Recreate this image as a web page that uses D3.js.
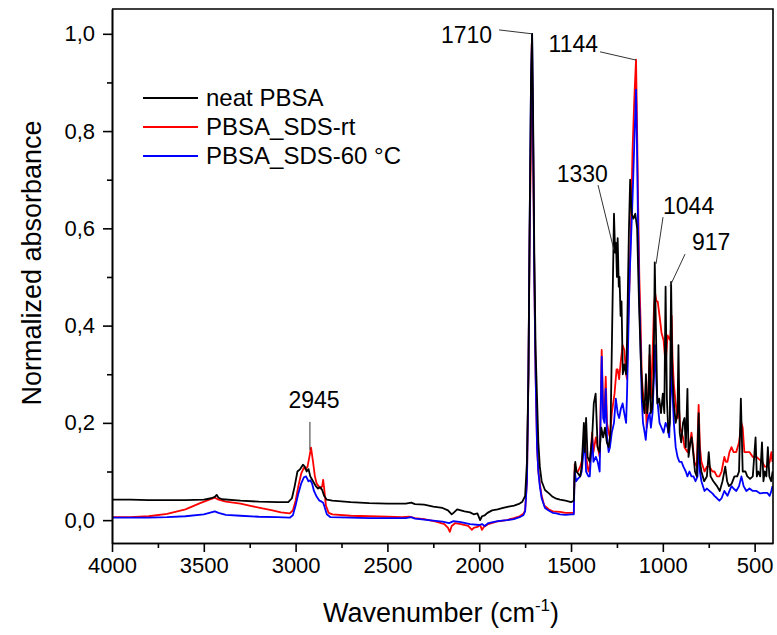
<!DOCTYPE html>
<html>
<head>
<meta charset="utf-8">
<script src="https://cdn.jsdelivr.net/npm/d3@7"></script>
<style>
  body { margin: 0; background: #fff; }
  svg { display: block; font-family: Arial, "Liberation Sans", sans-serif; }
</style>
</head>
<body>
<svg id="chart" width="777" height="635"></svg>
<script>
// spectra: [wavenumber (cm-1), normalized absorbance]
const neatPBSA = [
  [4000,0.042],[3900,0.042],[3800,0.041],[3700,0.041],[3600,0.041],[3500,0.042],[3460,0.045],[3440,0.048],
  [3430,0.052],[3420,0.046],[3400,0.043],[3300,0.040],[3200,0.038],[3100,0.037],[3040,0.037],[3020,0.045],
  [3005,0.070],[2990,0.100],[2975,0.105],[2960,0.114],[2950,0.110],[2940,0.100],[2930,0.105],[2920,0.090],
  [2905,0.080],[2890,0.070],[2878,0.065],[2866,0.068],[2855,0.062],[2845,0.050],[2830,0.042],[2800,0.040],
  [2700,0.037],[2600,0.035],[2500,0.034],[2400,0.034],[2370,0.036],[2350,0.033],[2300,0.032],[2250,0.028],
  [2200,0.025],[2170,0.020],[2150,0.012],[2140,0.015],[2120,0.022],[2100,0.020],[2080,0.018],[2050,0.016],
  [2030,0.012],[2010,0.014],[1995,0.000],[1985,0.008],[1970,0.010],[1955,0.015],[1930,0.020],[1900,0.022],
  [1870,0.025],[1840,0.028],[1810,0.030],[1780,0.034],[1765,0.038],[1750,0.050],[1740,0.120],[1732,0.300],
  [1725,0.620],[1718,0.900],[1712,1.000],[1707,0.850],[1700,0.550],[1693,0.350],[1685,0.250],[1678,0.160],
  [1670,0.110],[1660,0.080],[1642,0.062],[1620,0.055],[1600,0.048],[1580,0.044],[1560,0.042],[1530,0.040],
  [1500,0.037],[1485,0.040],[1480,0.100],[1477,0.120],[1470,0.100],[1460,0.095],[1450,0.090],[1442,0.110],
  [1430,0.200],[1425,0.140],[1418,0.210],[1410,0.130],[1398,0.120],[1385,0.170],[1376,0.240],[1366,0.260],
  [1355,0.150],[1345,0.140],[1335,0.190],[1325,0.170],[1315,0.190],[1305,0.160],[1295,0.150],[1285,0.180],
  [1275,0.420],[1266,0.630],[1260,0.550],[1255,0.570],[1250,0.500],[1246,0.580],[1240,0.480],[1236,0.500],
  [1230,0.420],[1225,0.450],[1218,0.300],[1210,0.320],[1200,0.300],[1195,0.370],[1185,0.590],[1178,0.700],
  [1170,0.630],[1160,0.620],[1150,0.630],[1140,0.600],[1130,0.450],[1120,0.330],[1110,0.250],[1100,0.220],
  [1092,0.300],[1085,0.220],[1078,0.250],[1072,0.360],[1066,0.220],[1058,0.230],[1050,0.300],[1044,0.530],
  [1038,0.400],[1030,0.240],[1020,0.250],[1010,0.220],[1000,0.260],[992,0.220],[985,0.480],[978,0.250],
  [970,0.180],[962,0.200],[955,0.490],[948,0.300],[940,0.240],[930,0.200],[920,0.220],[915,0.360],
  [908,0.180],[900,0.160],[890,0.200],[882,0.210],[875,0.150],[866,0.270],[860,0.130],[850,0.160],
  [843,0.170],[835,0.140],[825,0.100],[815,0.090],[805,0.220],[798,0.120],[790,0.100],[775,0.080],
  [760,0.090],[750,0.140],[740,0.090],[725,0.080],[705,0.070],[690,0.060],[675,0.080],[660,0.110],
  [650,0.080],[640,0.070],[625,0.075],[610,0.090],[595,0.090],[585,0.100],[575,0.250],[565,0.100],
  [550,0.100],[540,0.090],[525,0.085],[510,0.090],[495,0.170],[488,0.090],[480,0.100],[470,0.090],
  [460,0.160],[452,0.080],[445,0.100],[436,0.090],[428,0.150],[420,0.090],[410,0.080],[402,0.100]
];

const sdsRT = [
  [4000,0.006],[3900,0.006],[3800,0.008],[3700,0.013],[3600,0.022],[3520,0.035],[3470,0.042],[3440,0.046],
  [3420,0.042],[3380,0.038],[3300,0.034],[3240,0.029],[3180,0.024],[3126,0.020],[3080,0.016],[3032,0.014],
  [3015,0.020],[3000,0.040],[2985,0.070],[2970,0.095],[2955,0.108],[2945,0.105],[2935,0.110],[2925,0.130],
  [2916,0.149],[2905,0.120],[2895,0.090],[2885,0.075],[2875,0.070],[2865,0.065],[2855,0.070],[2850,0.083],
  [2843,0.060],[2835,0.030],[2820,0.015],[2800,0.012],[2700,0.009],[2600,0.008],[2500,0.007],[2420,0.006],
  [2380,0.007],[2350,0.004],[2300,0.002],[2235,-0.003],[2190,-0.008],[2170,-0.016],[2160,-0.024],[2150,-0.012],
  [2130,-0.006],[2100,-0.008],[2060,-0.012],[2040,-0.020],[2030,-0.016],[2010,-0.014],[1995,-0.010],[1985,-0.020],
  [1975,-0.014],[1950,-0.008],[1906,-0.003],[1850,0.000],[1811,0.004],[1780,0.008],[1760,0.013],[1750,0.020],
  [1740,0.080],[1732,0.300],[1725,0.600],[1720,0.720],[1714,0.980],[1707,0.800],[1700,0.500],[1693,0.300],
  [1685,0.150],[1678,0.100],[1670,0.075],[1660,0.050],[1646,0.030],[1620,0.022],[1599,0.018],[1560,0.017],
  [1530,0.015],[1500,0.015],[1485,0.015],[1480,0.115],[1472,0.100],[1463,0.100],[1450,0.110],[1442,0.120],
  [1432,0.150],[1425,0.180],[1418,0.130],[1405,0.100],[1398,0.110],[1385,0.180],[1378,0.140],[1365,0.170],
  [1355,0.150],[1344,0.130],[1333,0.350],[1325,0.230],[1318,0.220],[1311,0.295],[1304,0.200],[1295,0.180],
  [1288,0.170],[1278,0.220],[1263,0.260],[1252,0.310],[1246,0.310],[1238,0.290],[1228,0.330],[1219,0.360],
  [1210,0.350],[1200,0.300],[1195,0.290],[1188,0.420],[1181,0.490],[1173,0.620],[1165,0.760],[1155,0.870],
  [1146,0.947],[1140,0.800],[1135,0.660],[1128,0.500],[1122,0.420],[1115,0.300],[1108,0.260],[1099,0.230],
  [1093,0.240],[1088,0.190],[1080,0.260],[1072,0.340],[1065,0.250],[1056,0.340],[1048,0.440],[1042,0.466],
  [1035,0.450],[1028,0.450],[1018,0.420],[1007,0.385],[996,0.370],[985,0.320],[974,0.380],[960,0.370],
  [952,0.420],[947,0.330],[940,0.280],[930,0.240],[920,0.210],[912,0.230],[905,0.190],[898,0.180],
  [890,0.170],[882,0.150],[866,0.140],[855,0.150],[844,0.180],[836,0.150],[828,0.120],[815,0.110],
  [805,0.237],[798,0.150],[790,0.120],[773,0.100],[760,0.110],[746,0.110],[730,0.100],[719,0.100],
  [705,0.090],[692,0.090],[680,0.100],[665,0.130],[656,0.120],[648,0.120],[637,0.140],[626,0.150],
  [615,0.140],[600,0.140],[585,0.160],[572,0.200],[565,0.190],[556,0.140],[540,0.140],[528,0.140],
  [510,0.130],[490,0.130],[475,0.125],[458,0.120],[445,0.110],[431,0.110],[418,0.120],[409,0.140],[403,0.120]
];

const sds60 = [
  [4000,0.005],[3800,0.005],[3700,0.006],[3600,0.008],[3500,0.012],[3460,0.016],[3440,0.018],[3420,0.015],
  [3380,0.011],[3300,0.009],[3200,0.007],[3100,0.006],[3032,0.005],[3015,0.010],[3000,0.030],[2985,0.055],
  [2970,0.075],[2955,0.088],[2943,0.090],[2930,0.080],[2920,0.082],[2910,0.075],[2900,0.060],[2885,0.048],
  [2870,0.040],[2858,0.038],[2850,0.036],[2843,0.028],[2830,0.012],[2810,0.006],[2700,0.005],[2600,0.004],
  [2500,0.004],[2400,0.004],[2370,0.006],[2350,0.003],[2300,0.001],[2200,-0.003],[2164,-0.006],[2140,-0.002],
  [2100,-0.004],[2050,-0.008],[2000,-0.010],[1985,-0.008],[1970,-0.012],[1950,-0.006],[1900,-0.002],[1850,0.000],
  [1811,0.002],[1780,0.006],[1760,0.010],[1750,0.018],[1740,0.080],[1732,0.300],[1725,0.620],[1718,0.900],
  [1712,1.000],[1707,0.820],[1700,0.500],[1693,0.300],[1685,0.150],[1678,0.100],[1670,0.070],[1660,0.045],
  [1642,0.025],[1622,0.020],[1600,0.015],[1580,0.014],[1560,0.012],[1530,0.011],[1500,0.012],[1485,0.012],
  [1480,0.100],[1472,0.080],[1463,0.085],[1450,0.090],[1442,0.100],[1432,0.140],[1425,0.160],[1418,0.100],
  [1405,0.090],[1398,0.090],[1385,0.170],[1378,0.120],[1365,0.130],[1355,0.120],[1344,0.100],[1333,0.336],
  [1325,0.210],[1318,0.200],[1311,0.270],[1304,0.170],[1295,0.140],[1288,0.150],[1278,0.180],[1266,0.200],
  [1256,0.250],[1246,0.220],[1238,0.210],[1228,0.230],[1219,0.240],[1210,0.220],[1200,0.200],[1195,0.260],
  [1188,0.380],[1181,0.500],[1173,0.580],[1165,0.660],[1155,0.780],[1146,0.885],[1140,0.750],[1135,0.600],
  [1128,0.450],[1122,0.370],[1115,0.250],[1108,0.200],[1099,0.180],[1093,0.165],[1088,0.190],[1080,0.210],
  [1072,0.220],[1065,0.190],[1056,0.220],[1048,0.300],[1042,0.360],[1035,0.280],[1028,0.240],[1018,0.200],
  [1007,0.190],[996,0.180],[985,0.200],[974,0.190],[965,0.170],[958,0.250],[952,0.340],[947,0.260],
  [940,0.200],[930,0.150],[920,0.130],[910,0.120],[898,0.120],[888,0.110],[875,0.100],[866,0.090],
  [855,0.100],[844,0.090],[833,0.090],[822,0.080],[811,0.090],[805,0.190],[798,0.100],[790,0.080],
  [773,0.060],[760,0.065],[746,0.060],[730,0.055],[719,0.050],[705,0.045],[692,0.040],[680,0.045],
  [665,0.060],[648,0.050],[637,0.060],[626,0.070],[615,0.065],[600,0.060],[585,0.070],[572,0.090],
  [560,0.070],[545,0.060],[528,0.065],[510,0.060],[490,0.060],[470,0.055],[450,0.056],[431,0.056],
  [418,0.050],[409,0.060],[403,0.070]
];

const seriesNames = ["neat PBSA", "PBSA_SDS-rt", "PBSA_SDS-60 °C"];
const seriesColors = ["#000000", "#ff0000", "#0000ff"];

const xMajorTicks = [4000, 3500, 3000, 2500, 2000, 1500, 1000, 500];
const xMinorTicks = [3750, 3250, 2750, 2250, 1750, 1250, 750];
const yMajorTicks = [0, 0.2, 0.4, 0.6, 0.8, 1.0];
const yMinorTicks = [0.1, 0.3, 0.5, 0.7, 0.9];

// peak labels: text, peak point, leader start, label anchor (data units)
const peakLabels = [
  { text: "1710", wn: 1713, a: 1.000, lx: 1892, la: 1.008, tx: 1930, ta: 0.981, anchor: "end" },
  { text: "1144", wn: 1146, a: 0.946, lx: 1342, la: 0.963, tx: 1353, ta: 0.963, anchor: "end" },
  { text: "1330", wn: 1266, a: 0.555, lx: 1353, la: 0.689, tx: 1299, ta: 0.695, anchor: "end" },
  { text: "1044", wn: 1037, a: 0.527, lx: 999,  la: 0.623, tx: 999,  ta: 0.630, anchor: "start" },
  { text: "917",  wn: 961,  a: 0.481, lx: 879,  la: 0.547, tx: 841,  ta: 0.555, anchor: "start" },
  { text: "2945", wn: 2922, a: 0.144, lx: 2922, la: 0.202, tx: 2900, ta: 0.231, anchor: "middle" }
];

const width = 777, height = 635;
const margin = { top: 9, right: 4, bottom: 92, left: 112 };

const svg = d3.select("#chart");

const x = d3.scaleLinear()
  .domain([4000, 400])
  .range([margin.left, width - margin.right]);

const y = d3.scaleLinear()
  .domain([-0.047, 1.051])
  .range([height - margin.bottom, margin.top]);

const commaFmt = d => d3.format(".1f")(d).replace(".", ",");

// spectra
const line = d3.line()
  .x(d => x(d[0]))
  .y(d => y(d[1]));

svg.append("clipPath").attr("id", "plotclip")
  .append("rect")
  .attr("x", margin.left).attr("y", margin.top)
  .attr("width", width - margin.left - margin.right)
  .attr("height", height - margin.top - margin.bottom);

const plot = svg.append("g").attr("clip-path", "url(#plotclip)");

const drawOrder = [1, 2, 0];
const allSeries = [neatPBSA, sdsRT, sds60];
drawOrder.forEach(i => {
  plot.append("path")
    .datum(allSeries[i])
    .attr("fill", "none")
    .attr("stroke", seriesColors[i])
    .attr("stroke-width", 1.8)
    .attr("stroke-linejoin", "round")
    .attr("d", line);
});

// frame (top + right)
svg.append("path")
  .attr("d", `M${margin.left},${margin.top}H${width - margin.right}V${height - margin.bottom}`)
  .attr("fill", "none")
  .attr("stroke", "#000")
  .attr("stroke-width", 1.6);

// x axis
svg.append("g")
  .attr("transform", `translate(0,${height - margin.bottom})`)
  .call(d3.axisBottom(x).tickValues(xMajorTicks).tickSize(9).tickSizeOuter(0).tickPadding(5).tickFormat(d3.format("d")));

svg.append("g")
  .attr("transform", `translate(0,${height - margin.bottom})`)
  .call(d3.axisBottom(x).tickValues(xMinorTicks).tickSize(5).tickSizeOuter(0).tickFormat(""));

// y axis
svg.append("g")
  .attr("transform", `translate(${margin.left},0)`)
  .call(d3.axisLeft(y).tickValues(yMajorTicks).tickSize(9).tickSizeOuter(0).tickPadding(8).tickFormat(commaFmt));

svg.append("g")
  .attr("transform", `translate(${margin.left},0)`)
  .call(d3.axisLeft(y).tickValues(yMinorTicks).tickSize(5).tickSizeOuter(0).tickFormat(""));

svg.selectAll(".domain, .tick line")
  .attr("stroke", "#000")
  .attr("stroke-width", 1.6);

svg.selectAll(".tick text")
  .attr("font-size", 22)
  .attr("font-family", "Arial, 'Liberation Sans', sans-serif")
  .attr("fill", "#000");

// axis titles
const xTitle = svg.append("text")
  .attr("x", 441)
  .attr("y", 622)
  .attr("text-anchor", "middle")
  .attr("font-size", 27);
xTitle.append("tspan").text("Wavenumber (cm");
xTitle.append("tspan").attr("dy", -11).attr("font-size", 17).text("-1");
xTitle.append("tspan").attr("dy", 11).text(")");

svg.append("text")
  .attr("transform", "translate(41,263) rotate(-90)")
  .attr("text-anchor", "middle")
  .attr("font-size", 27)
  .text("Normalized absorbance");

// legend
const legend = svg.append("g").attr("transform", "translate(143,98)");
seriesNames.forEach((name, i) => {
  const g = legend.append("g").attr("transform", `translate(0,${i * 29})`);
  g.append("line").attr("x1", 0).attr("x2", 55).attr("y1", 0).attr("y2", 0)
    .attr("stroke", seriesColors[i]).attr("stroke-width", 1.8);
  g.append("text").attr("x", 63).attr("y", 8).attr("font-size", 24).text(name);
});

// peak annotations
const ann = svg.append("g");
peakLabels.forEach(p => {
  ann.append("line")
    .attr("x1", x(p.lx)).attr("y1", y(p.la))
    .attr("x2", x(p.wn)).attr("y2", y(p.a))
    .attr("stroke", "#333").attr("stroke-width", 1);
  ann.append("text")
    .attr("x", x(p.tx)).attr("y", y(p.ta))
    .attr("text-anchor", p.anchor)
    .attr("font-size", 23)
    .text(p.text);
});
</script>
</body>
</html>
